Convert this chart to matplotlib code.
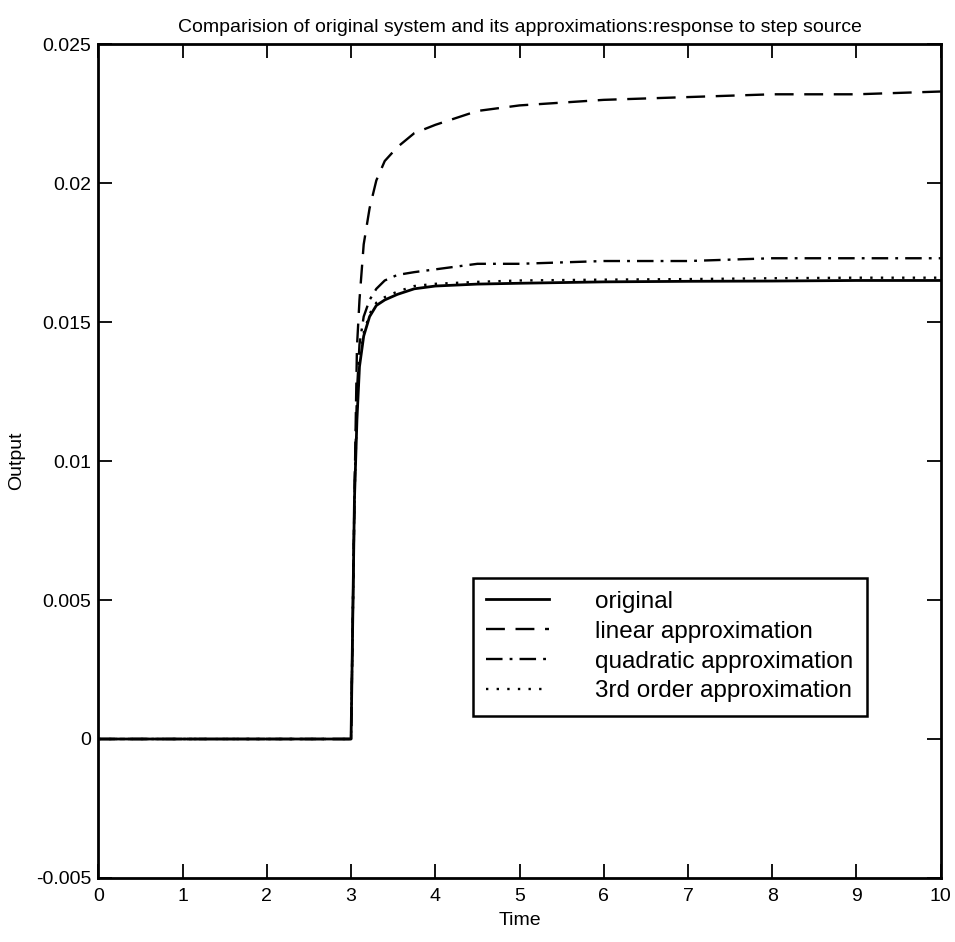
import matplotlib
matplotlib.use('Agg')
import matplotlib.pyplot as plt

plt.rcParams['font.family'] = ['Liberation Sans', 'DejaVu Sans']

# time points and responses
t = [0, 3.0, 3.04, 3.07, 3.1, 3.15, 3.22, 3.3, 3.4, 3.55, 3.75, 4.0, 4.5, 5.0, 6.0, 7.0, 8.0, 9.0, 10.0]
original = [0, 0, 0.0086, 0.0115, 0.0134, 0.0145, 0.0152, 0.0156, 0.0158, 0.0160, 0.0162, 0.0163,
            0.01637, 0.0164, 0.01645, 0.01647, 0.01648, 0.0165, 0.0165]
linear = [0, 0, 0.0086, 0.0141, 0.0158, 0.0178, 0.0191, 0.0201, 0.0208, 0.0213, 0.0218, 0.0221,
          0.0226, 0.0228, 0.0230, 0.0231, 0.0232, 0.0232, 0.0233]
quadratic = [0, 0, 0.0086, 0.0125, 0.0142, 0.0152, 0.0158, 0.0162, 0.0165, 0.0167, 0.0168, 0.0169,
             0.0171, 0.0171, 0.0172, 0.0172, 0.0173, 0.0173, 0.0173]
third = [0, 0, 0.0086, 0.0118, 0.0136, 0.0146, 0.0153, 0.0157, 0.0159, 0.0161, 0.0163, 0.01638,
         0.01645, 0.0165, 0.01653, 0.01655, 0.01658, 0.0166, 0.0166]

names = ['original', 'linear approximation', 'quadratic approximation', '3rd order approximation']
xticks = [0, 1, 2, 3, 4, 5, 6, 7, 8, 9, 10]
yticks = [-0.005, 0, 0.005, 0.01, 0.015, 0.02, 0.025]
ylabels = ['-0.005', '0', '0.005', '0.01', '0.015', '0.02', '0.025']

fig = plt.figure(figsize=(9.55, 9.42), dpi=100)
ax = fig.add_axes([0.103, 0.068, 0.882, 0.885])

ax.plot(t, original, color='black', lw=2.0, label=names[0])
ax.plot(t, linear, color='black', lw=1.7, dashes=(8, 4.5), label=names[1])
ax.plot(t, quadratic, color='black', lw=1.7, dashes=(7, 3, 1.2, 3), label=names[2])
ax.plot(t, third, color='black', lw=1.7, dashes=(1.0, 3.5), label=names[3])

ax.set_xlim(0, 10)
ax.set_ylim(-0.005, 0.025)
ax.set_xticks(xticks)
ax.set_xticklabels([str(v) for v in xticks])
ax.set_yticks(yticks)
ax.set_yticklabels(ylabels)
ax.tick_params(direction='in', length=10, width=1.3, top=True, right=True, labelsize=14, pad=5)
ax.tick_params(axis='x', pad=7)
for s in ax.spines.values():
    s.set_linewidth(2.0)

ax.set_title('Comparision of original system and its approximations:response to step source',
             fontsize=14, pad=9)
ax.set_xlabel('Time', fontsize=14, labelpad=5)
ax.set_ylabel('Output', fontsize=14, labelpad=8)

leg = ax.legend(loc='lower left', bbox_to_anchor=(0.43, 0.18),
                fontsize=17.5, handlelength=2.6, handletextpad=1.9, labelspacing=0.32,
                fancybox=False, edgecolor='black', framealpha=1, borderpad=0.55)
leg.get_frame().set_linewidth(1.8)

fig.savefig('out.png', dpi=100)
